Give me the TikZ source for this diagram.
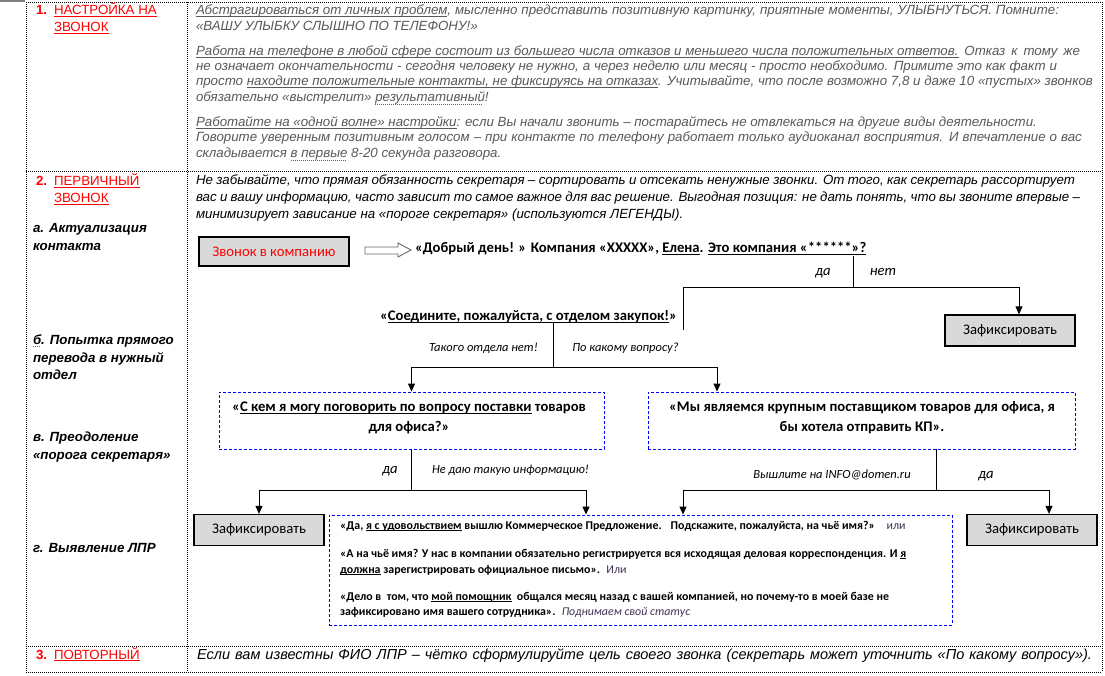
\documentclass[tikz,border=0pt]{standalone}
\usepackage{fontspec}
\setmainfont{Liberation Sans}
\newfontfamily\calfont{Carlito}
\usetikzlibrary{arrows.meta,calc}
\definecolor{txtgray}{RGB}{89,89,89}
\definecolor{boxgray}{RGB}{217,217,217}
\definecolor{dblue}{RGB}{0,0,255}
\definecolor{lred}{RGB}{255,0,0}
\definecolor{spellg}{RGB}{0,170,0}
\definecolor{dpurple}{RGB}{64,49,82}
\newcommand{\jl}[2]{\makebox[#1pt][s]{#2}}
\newcommand{\ul}[1]{\setbox0\hbox{#1}\rlap{\rule[-2.2pt]{\wd0}{0.8pt}}\box0\relax}
\newcommand{\spell}[1]{\setbox0\hbox{#1}\rlap{\textcolor{spellg}{\hbox to \wd0{\leaders\hbox to 2pt{\rule[-2.6pt]{1pt}{0.7pt}\hss}\hfill}}}\box0\relax}
\begin{document}
\begin{tikzpicture}[x=1pt,y=-1pt,
  t/.style={anchor=base west,inner sep=0pt,outer sep=0pt},
  g/.style={t,font=\fontsize{13.3}{16}\selectfont\itshape,text=txtgray},
  bk/.style={t,font=\fontsize{13.3}{16}\selectfont\itshape},
  rl/.style={t,font=\fontsize{13.3}{16}\selectfont,text=lred},
  rn/.style={t,font=\fontsize{13.3}{16}\selectfont\bfseries,text=lred},
  side/.style={t,font=\fontsize{13.3}{16}\selectfont\bfseries\itshape},
  q/.style={t,font=\calfont\fontsize{14.67}{17}\selectfont\bfseries},
  qc/.style={anchor=base,inner sep=0pt,font=\calfont\fontsize{14.67}{17}\selectfont\bfseries},
  sm/.style={t,font=\calfont\fontsize{11.9}{14}\selectfont\bfseries},
  lab/.style={anchor=base,inner sep=0pt,font=\calfont\fontsize{12.5}{14}\selectfont\itshape},
  yn/.style={anchor=base,inner sep=0pt,font=\calfont\fontsize{14.67}{17}\selectfont\itshape},
  fixbox/.style={draw,line width=1.2pt,fill=boxgray,font=\calfont\fontsize{14.67}{17}\selectfont,minimum width=130pt,minimum height=31pt,inner sep=0pt},
  dbox/.style={draw=dblue,dash pattern=on 3pt off 2pt,line width=0.9pt,inner sep=0pt},
  conn/.style={line width=0.9pt},
  arr/.style={conn,-{Triangle[width=7pt,length=8pt]}},
  tbl/.style={line width=0.9pt,dash pattern=on 1pt off 1pt}]
\useasboundingbox (0,0) rectangle (1105,676);
\fill[white] (0,0) rectangle (1105,676);
\fill[gray] (0,0) rectangle (25,2);
% table frame
\draw[tbl] (26,2) -- (1102,2);
\draw[tbl] (26,171) -- (1102,171);
\draw[tbl] (26,646) -- (1102,646);
\draw[tbl] (26,672) -- (1102,672);
\draw[tbl] (26,2) -- (26,672);
\draw[tbl] (187,2) -- (187,672);
\draw[tbl] (1102,2) -- (1102,672);
% row 1 left
\node[rn] (n1) at (36,15) {1.};
\node[rl] (h1a) at (54,15) {\ul{НАСТРОЙКА НА}};
\node[rl] (h1b) at (54,32) {\ul{ЗВОНОК}};
% row 1 text
\node[g] (r1l1) at (196,15) {\jl{863}{\ul{Абстрагироваться от личных проблем}, мысленно представить позитивную картинку, приятные моменты, УЛЫБНУТЬСЯ. Помните:}};
\node[g] (r1l2) at (196,31) {«ВАШУ УЛЫБКУ СЛЫШНО ПО ТЕЛЕФОНУ!»};
\node[g] (r1l3) at (196,56) {\jl{884}{\ul{Работа на телефоне в любой сфере состоит из большего числа отказов и меньшего числа положительных ответов.} Отказ к тому же}};
\node[g] (r1l4) at (196,71) {\jl{861}{не означает окончательности - сегодня человеку не нужно, а через неделю или месяц - просто необходимо. Примите это как факт и}};
\node[g] (r1l5) at (196,86) {\jl{897}{просто \ul{находите положительные контакты, не фиксируясь на отказах}. Учитывайте, что после возможно 7,8 и даже 10 «пустых» звонков}};
\node[g] (r1l6) at (196,102) {обязательно «выстрелит» \spell{результативный}!};
\node[g] (r1l7) at (196,127) {\jl{841}{\ul{Работайте на «одной волне» настройки}: если Вы начали звонить – постарайтесь не отвлекаться на другие виды деятельности.}};
\node[g] (r1l8) at (196,142) {\jl{886}{Говорите уверенным позитивным голосом – при контакте по телефону работает только аудиоканал восприятия. И впечатление о вас}};
\node[g] (r1l9) at (196,158) {складывается \spell{в первые} 8-20 секунда разговора.};
% row 2 left
\node[rn] (n2) at (36,186) {2.};
\node[rl] (h2a) at (54,186) {\ul{ПЕРВИЧНЫЙ}};
\node[rl] (h2b) at (54,203) {\ul{ЗВОНОК}};
\node[side] (sa1) at (33,232.5) {а. Актуализация};
\node[side] (sa2) at (33,250.5) {контакта};
\node[side] (sb1) at (33,344.5) {\spell{б}. Попытка прямого};
\node[side] (sb2) at (33,362.5) {перевода в нужный};
\node[side] (sb3) at (33,379.5) {отдел};
\node[side] (sc1) at (33,441.5) {в. Преодоление};
\node[side] (sc2) at (33,459.5) {«порога секретаря»};
\node[side] (sd1) at (33,552.5) {г. Выявление ЛПР};
% row 2 text
\node[bk] (r2l1) at (196,185) {\jl{879}{Не забывайте, что прямая обязанность секретаря – сортировать и отсекать ненужные звонки. От того, как секретарь рассортирует}};
\node[bk] (r2l2) at (196,202) {\jl{884}{вас и вашу информацию, часто зависит то самое важное для вас решение. Выгодная позиция: не дать понять, что вы звоните впервые –}};
\node[bk] (r2l3) at (196,219) {минимизирует зависание на «пороге секретаря» (используются ЛЕГЕНДЫ).};
% flow
\node[fixbox,minimum width=150pt,minimum height=29pt,text=lred] (call) at (274,251.5) {Звонок в компанию};
\draw[line width=0.9pt,draw=black!60,fill=white] (365,247) -- (398,247) -- (398,243) -- (411,250) -- (398,257) -- (398,254) -- (365,254) -- cycle;
\node[q] (hello) at (415,252.5) {«Добрый день! » Компания «XXXXX», \ul{Елена}. \ul{Это компания «******»?}};
\node[yn] (yes1) at (823,275.5) {да};
\node[yn] (no1) at (883,275.5) {нет};
\node[fixbox] (fix1) at (1010,330.5) {Зафиксировать};
\node[q] (conn2) at (380,320.5) {«\ul{Соедините, пожалуйста, с отделом закупок!}»};
\coordinate (s1) at (853,256);
\coordinate (s1b) at (853,287);
\coordinate (s1l) at (683,330);
\coordinate (s1r) at (1019,0);
\draw[conn] (s1) -- (s1b);
\draw[conn] (s1l) |- (s1b);
\draw[arr] (s1b) -| (fix1.north -| s1r);
\node[lab] (lab1) at (483.5,351) {Такого отдела нет!};
\node[lab] (lab2) at (625.5,351) {По какому вопросу?};
\node[dbox,minimum width=385pt,minimum height=57pt] (boxL) at (411.5,420.5) {};
\node[dbox,minimum width=427pt,minimum height=57pt] (boxR) at (861.5,420.5) {};
\node[qc] (bl1) at (409,411.5) {«\ul{С кем я могу поговорить по вопросу поставки} товаров};
\node[qc] (bl2) at (409,431.5) {для офиса?»};
\node[qc] (br1) at (862,411.5) {«Мы являемся крупным поставщиком товаров для офиса, я};
\node[qc] (br2) at (862,431.5) {бы хотела отправить КП».};
\coordinate (s2) at (553,322);
\coordinate (s2b) at (553,367);
\coordinate (s2r) at (717,0);
\draw[conn] (s2) -- (s2b);
\draw[arr] (s2b) -| (boxL.north);
\draw[arr] (s2b) -| (boxR.north -| s2r);
% second level
\node[fixbox] (fix2) at (259,530) {Зафиксировать};
\node[fixbox] (fix3) at (1032,530) {Зафиксировать};
\node[dbox,minimum width=623pt,minimum height=110pt] (dbox) at (640.5,570) {};
\coordinate (s3b) at (411.5,490);
\coordinate (s3r) at (586,0);
\draw[conn] (boxL.south) -- (s3b);
\draw[arr] (s3b) -| (fix2.north);
\draw[arr] (s3b) -| (dbox.north -| s3r);
\coordinate (s4x) at (936,0);
\coordinate (s4b) at (936,490);
\coordinate (s4l) at (683,0);
\coordinate (s4r) at (1049,0);
\draw[conn] (boxR.south -| s4x) -- (s4b);
\draw[arr] (s4b) -| (dbox.north -| s4l);
\draw[arr] (s4b) -| (fix3.north -| s4r);
\node[yn] (yes2) at (390,473.5) {да};
\node[lab] (lab3) at (510.5,473.5) {Не даю такую информацию!};
\node[lab] (lab4) at (832,478) {Вышлите на INFO@domen.ru};
\node[yn] (yes3) at (986,478.5) {да};
% dashed box text
\node[sm] (d1) at (340,529) {«Да, \ul{я с удовольствием} вышлю Коммерческое Предложение. \ \ Подскажите, пожалуйста, на чьё имя?» \ \ \ {\mdseries\color{dpurple}или}};
\node[sm] (d2) at (340,557) {«А на чьё имя? У нас в компании обязательно регистрируется вся исходящая деловая корреспонденция. И \ul{я}};
\node[sm] (d3) at (340,573) {\ul{должна} зарегистрировать официальное письмо». \ {\mdseries\color{dpurple}Или}};
\node[sm] (d4) at (340,600) {«Дело в \ том, что \ul{мой помощник} \ общался месяц назад с вашей компанией, но почему-то в моей базе не};
\node[sm] (d5) at (340,615) {зафиксировано имя вашего сотрудника». \ {\mdseries\itshape\color{dpurple}Поднимаем свой статус}};
% row 3
\node[rn] (n3) at (36,659) {3.};
\node[rl] (h3a) at (54,659) {\ul{ПОВТОРНЫЙ}};
\node[t,font=\fontsize{14.5}{17}\selectfont\itshape] (r3) at (197,659) {\jl{895}{Если вам известны ФИО ЛПР – чётко сформулируйте цель своего звонка (секретарь может уточнить «По какому вопросу»).}};
\end{tikzpicture}
\end{document}
